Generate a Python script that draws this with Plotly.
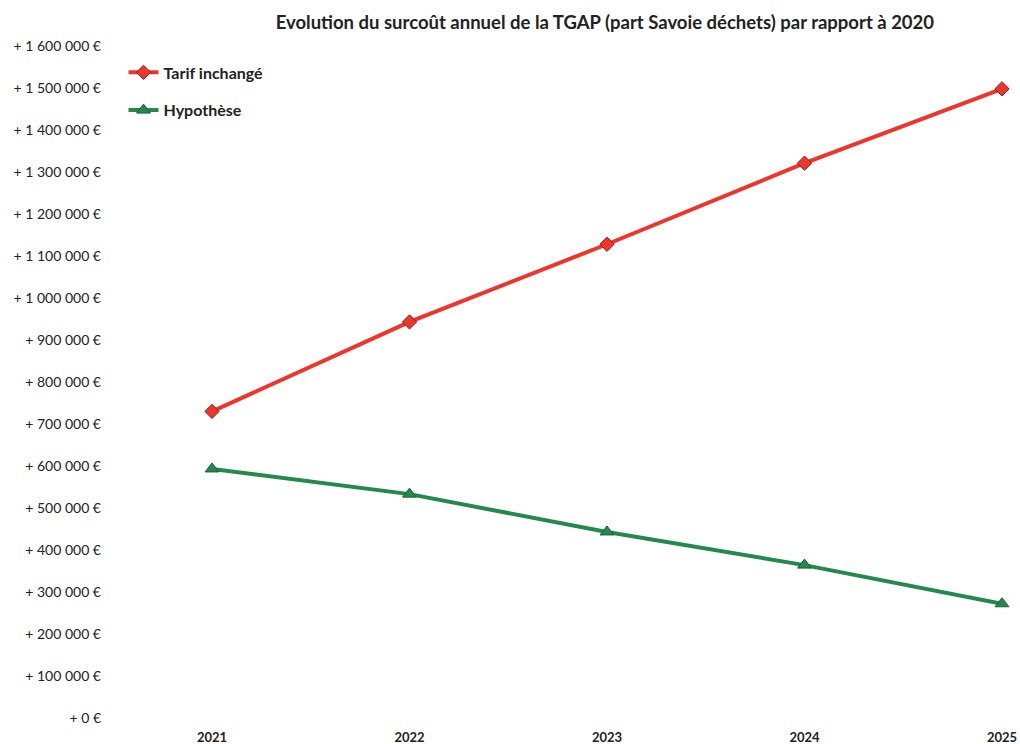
import plotly.graph_objects as go

# Years and annual extra TGAP cost (EUR) compared to 2020
years = [2021, 2022, 2023, 2024, 2025]
tarif_inchange = [730000, 943000, 1128000, 1321000, 1498000]
hypothese = [593000, 533000, 443000, 364000, 272000]

y_ticks = list(range(0, 1700000, 100000))


def fmt_eur(v):
    s = f"{v:,}".replace(",", " ")
    return f"+ {s} €"


y_ticktext = [fmt_eur(v) for v in y_ticks]

FONT = "Lato, 'Open Sans', sans-serif"

fig = go.Figure()
fig.add_trace(go.Scatter(
    x=years, y=tarif_inchange, name="Tarif inchangé",
    mode="lines+markers", legendgroup="a",
    line=dict(color="#f0342a", width=4),
    marker=dict(symbol="diamond", size=11, color="#f0342a",
                line=dict(color="#7a2a2a", width=1)),
    cliponaxis=False,
))
fig.add_trace(go.Scatter(
    x=years, y=hypothese, name="Hypothèse",
    mode="lines+markers", legendgroup="b",
    line=dict(color="#218a4c", width=4),
    marker=dict(symbol="triangle-up", size=12, color="#218a4c",
                line=dict(color="#1c5e36", width=1)),
    cliponaxis=False,
))

fig.update_layout(
    width=1020, height=744,
    margin=dict(l=212, r=18, t=46, b=26),
    paper_bgcolor="white", plot_bgcolor="white",
    font=dict(family=FONT, color="#222222"),
    title=dict(
        text="<b>Evolution du surcoût annuel de la TGAP (part Savoie déchets) par rapport à 2020</b>",
        x=0.593, xanchor="center", y=0.97, yanchor="middle",
        font=dict(size=18.5, family=FONT, color="#222222"),
    ),
    legend=dict(
        x=-0.112, y=0.986, xanchor="left", yanchor="top",
        font=dict(size=16, family=FONT, color="#222222", weight="bold"),
        bgcolor="rgba(0,0,0,0)", tracegroupgap=14,
        itemwidth=30,
    ),
    showlegend=True,
)

fig.update_xaxes(
    range=[2021, 2025], tickvals=years, ticktext=[str(y) for y in years],
    showgrid=False, zeroline=False, showline=False, ticks="",
    tickfont=dict(size=13, family=FONT, color="#222222", weight="bold"),
    ticklabelstandoff=10, automargin=False,
)
fig.update_yaxes(
    range=[0, 1600000], tickvals=y_ticks, ticktext=y_ticktext,
    showgrid=False, zeroline=False, showline=False, ticks="",
    tickfont=dict(size=14, family=FONT, color="#222222"),
    ticklabelstandoff=110, automargin=False,
)

fig.write_html("out.html")
